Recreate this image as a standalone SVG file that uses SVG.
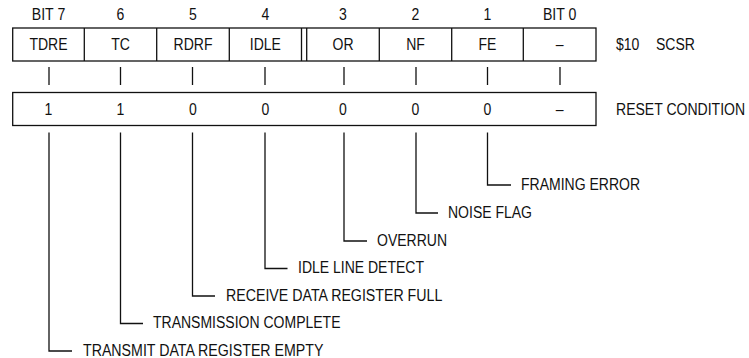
<svg xmlns="http://www.w3.org/2000/svg" width="749" height="358" viewBox="0 0 749 358">
<style>
text{font-family:"Liberation Sans",Arial,sans-serif;font-size:16px;fill:#111}
.c{text-anchor:middle}
.box{fill:none;stroke:#111;stroke-width:1.3}
.ln{fill:none;stroke:#111;stroke-width:1.3}
</style>
<rect width="749" height="358" fill="#fff"/>
<g id="bit-numbers">
<text class="c" x="48.5" y="20" textLength="33.5" lengthAdjust="spacingAndGlyphs">BIT 7</text>
<text class="c" x="120.5" y="20" textLength="7.8" lengthAdjust="spacingAndGlyphs">6</text>
<text class="c" x="193" y="20" textLength="7.8" lengthAdjust="spacingAndGlyphs">5</text>
<text class="c" x="265.4" y="20" textLength="7.8" lengthAdjust="spacingAndGlyphs">4</text>
<text class="c" x="343" y="20" textLength="7.8" lengthAdjust="spacingAndGlyphs">3</text>
<text class="c" x="415.5" y="20" textLength="7.8" lengthAdjust="spacingAndGlyphs">2</text>
<text class="c" x="487.5" y="20" textLength="7.8" lengthAdjust="spacingAndGlyphs">1</text>
<text class="c" x="559.7" y="20" textLength="33.5" lengthAdjust="spacingAndGlyphs">BIT 0</text>
</g>
<g id="scsr-register">
<rect class="box" x="12.7" y="28" width="583.3" height="33"/>
<g id="bit7-TDRE"><text class="c" x="48.5" y="50" textLength="38.1" lengthAdjust="spacingAndGlyphs">TDRE</text></g>
<g id="bit6-TC"><line class="box" x1="84.3" y1="28" x2="84.3" y2="61"/><text class="c" x="120.5" y="50" textLength="18.7" lengthAdjust="spacingAndGlyphs">TC</text></g>
<g id="bit5-RDRF"><line class="box" x1="156.7" y1="28" x2="156.7" y2="61"/><text class="c" x="193" y="50" textLength="38.9" lengthAdjust="spacingAndGlyphs">RDRF</text></g>
<g id="bit4-IDLE"><line class="box" x1="229.3" y1="28" x2="229.3" y2="61"/><text class="c" x="265.4" y="50" textLength="31.1" lengthAdjust="spacingAndGlyphs">IDLE</text></g>
<g id="bit3-OR"><line class="box" x1="301.5" y1="28" x2="301.5" y2="61"/><line class="box" x1="306.7" y1="28" x2="306.7" y2="61"/><text class="c" x="343" y="50" textLength="21" lengthAdjust="spacingAndGlyphs">OR</text></g>
<g id="bit2-NF"><line class="box" x1="379.3" y1="28" x2="379.3" y2="61"/><text class="c" x="415.5" y="50" textLength="18.7" lengthAdjust="spacingAndGlyphs">NF</text></g>
<g id="bit1-FE"><line class="box" x1="451.7" y1="28" x2="451.7" y2="61"/><text class="c" x="487.5" y="50" textLength="17.9" lengthAdjust="spacingAndGlyphs">FE</text></g>
<g id="bit0"><line class="box" x1="523.3" y1="28" x2="523.3" y2="61"/><text class="c" x="559.7" y="50" textLength="7.8" lengthAdjust="spacingAndGlyphs">–</text></g>
</g>
<g id="register-name">
<text x="616" y="50" textLength="23.4" lengthAdjust="spacingAndGlyphs">$10</text>
<text x="656" y="50" textLength="38.9" lengthAdjust="spacingAndGlyphs">SCSR</text>
</g>
<g id="reset-condition">
<rect class="box" x="12.7" y="92.5" width="583.3" height="33"/>
<text class="c" x="48.5" y="114.5" textLength="7.8" lengthAdjust="spacingAndGlyphs">1</text>
<text class="c" x="120.5" y="114.5" textLength="7.8" lengthAdjust="spacingAndGlyphs">1</text>
<text class="c" x="193" y="114.5" textLength="7.8" lengthAdjust="spacingAndGlyphs">0</text>
<text class="c" x="265.4" y="114.5" textLength="7.8" lengthAdjust="spacingAndGlyphs">0</text>
<text class="c" x="343" y="114.5" textLength="7.8" lengthAdjust="spacingAndGlyphs">0</text>
<text class="c" x="415.5" y="114.5" textLength="7.8" lengthAdjust="spacingAndGlyphs">0</text>
<text class="c" x="487.5" y="114.5" textLength="7.8" lengthAdjust="spacingAndGlyphs">0</text>
<text class="c" x="559.7" y="114.5" textLength="7.8" lengthAdjust="spacingAndGlyphs">–</text>
<text x="616" y="114.5" textLength="129.1" lengthAdjust="spacingAndGlyphs">RESET CONDITION</text>
</g>
<g id="connectors">
<line class="ln" x1="49" y1="67" x2="49" y2="85"/>
<line class="ln" x1="120.5" y1="67" x2="120.5" y2="85"/>
<line class="ln" x1="192.5" y1="67" x2="192.5" y2="85"/>
<line class="ln" x1="265" y1="67" x2="265" y2="85"/>
<line class="ln" x1="344" y1="67" x2="344" y2="85"/>
<line class="ln" x1="416" y1="67" x2="416" y2="85"/>
<line class="ln" x1="487.5" y1="67" x2="487.5" y2="85"/>
<line class="ln" x1="560" y1="67" x2="560" y2="85"/>
<polyline class="ln" points="49,132.5 49,351 72,351"/>
<polyline class="ln" points="120.5,132.5 120.5,323.5 143,323.5"/>
<polyline class="ln" points="192.5,132.5 192.5,296 215,296"/>
<polyline class="ln" points="265,132.5 265,268.5 287.5,268.5"/>
<polyline class="ln" points="344,132.5 344,241 367,241"/>
<polyline class="ln" points="416,132.5 416,213 438,213"/>
<polyline class="ln" points="487.5,132.5 487.5,185 511,185"/>
</g>
<g id="label-FE"><text x="521" y="189.5" textLength="119" lengthAdjust="spacingAndGlyphs">FRAMING ERROR</text></g>
<g id="label-NF"><text x="448" y="217.5" textLength="84" lengthAdjust="spacingAndGlyphs">NOISE FLAG</text></g>
<g id="label-OR"><text x="377" y="245.5" textLength="70" lengthAdjust="spacingAndGlyphs">OVERRUN</text></g>
<g id="label-IDLE"><text x="298" y="273" textLength="126" lengthAdjust="spacingAndGlyphs">IDLE LINE DETECT</text></g>
<g id="label-RDRF"><text x="226" y="300.5" textLength="216.3" lengthAdjust="spacingAndGlyphs">RECEIVE DATA REGISTER FULL</text></g>
<g id="label-TC"><text x="153" y="328" textLength="187.5" lengthAdjust="spacingAndGlyphs">TRANSMISSION COMPLETE</text></g>
<g id="label-TDRE"><text x="83" y="355.5" textLength="240.4" lengthAdjust="spacingAndGlyphs">TRANSMIT DATA REGISTER EMPTY</text></g>
</svg>
